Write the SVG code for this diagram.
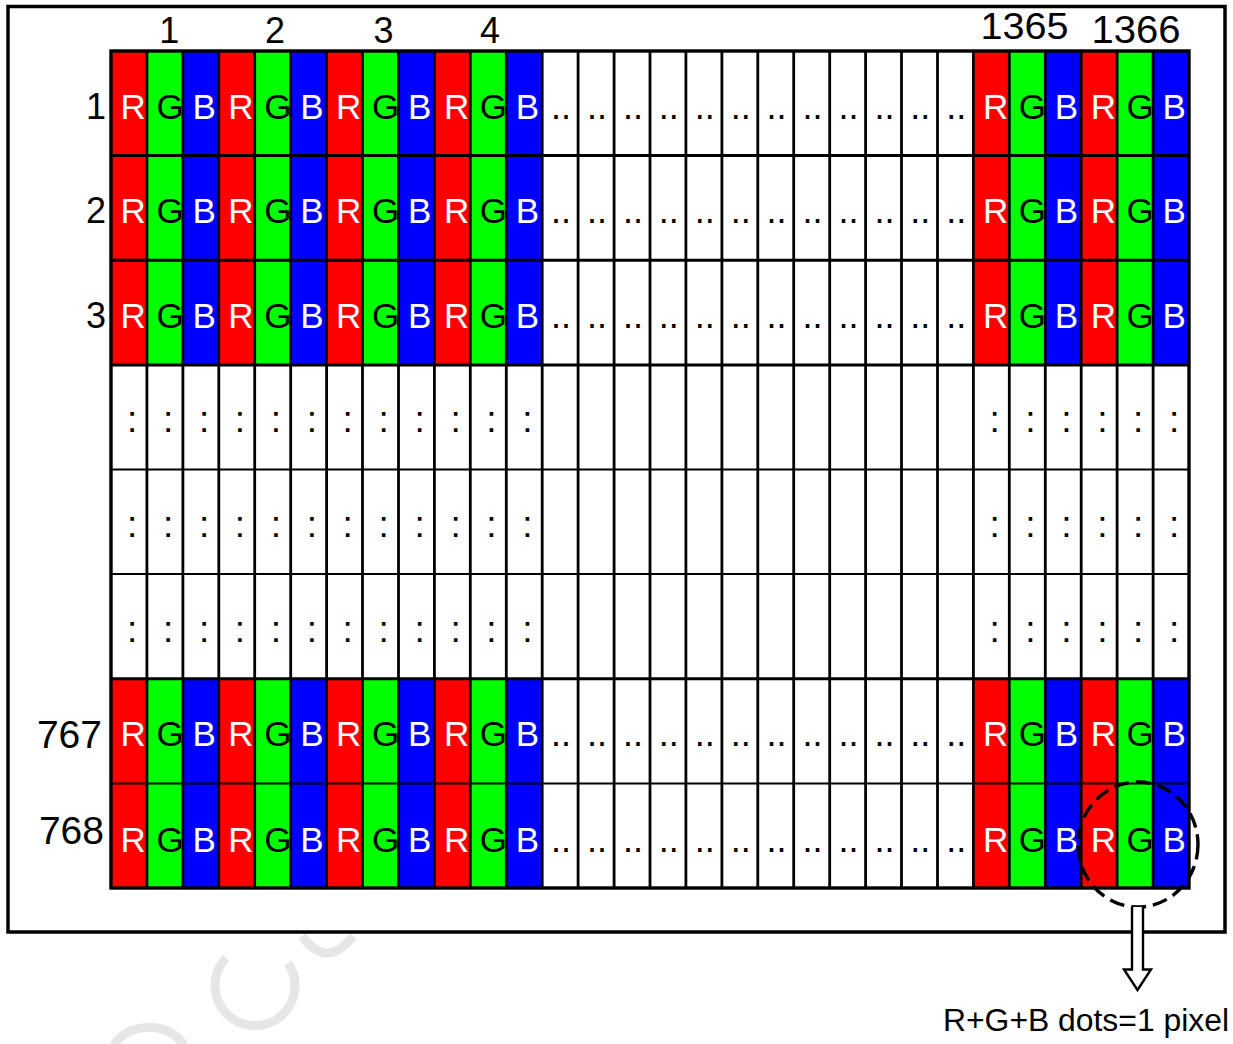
<svg xmlns="http://www.w3.org/2000/svg" width="1233" height="1044" viewBox="0 0 1233 1044">
<style>
  text{font-family:"Liberation Sans",Arial,sans-serif}
  .lt{font-size:35px}
  .w{fill:#fff}
  .k{fill:#000}
  .d{font-size:36px;fill:#000}
  .c{font-size:37px;fill:#000}
  .lab{font-size:36px;fill:#000}
  .vl{stroke:#000;stroke-width:2.8}
  .hk{stroke:#000;stroke-width:3}
  .hn{stroke:#000;stroke-width:2}
  .wm{fill:none;stroke:#e6e6e6;stroke-width:9}
</style>
<defs>
  <pattern id="rgb" patternUnits="userSpaceOnUse" x="111" y="0" width="107.8" height="1044">
    <rect x="0" y="0" width="35.93" height="1044" fill="#ff0000"/>
    <rect x="35.93" y="0" width="35.94" height="1044" fill="#00ff00"/>
    <rect x="71.87" y="0" width="35.93" height="1044" fill="#0000ff"/>
  </pattern>
  <g id="rowtext">
    <text class="lt w" x="120.5" y="118.5">R</text>
    <text class="lt k" x="156.4" y="118.5">G</text>
    <text class="lt w" x="192.4" y="118.5">B</text>
    <text class="lt w" x="228.3" y="118.5">R</text>
    <text class="lt k" x="264.2" y="118.5">G</text>
    <text class="lt w" x="300.2" y="118.5">B</text>
    <text class="lt w" x="336.1" y="118.5">R</text>
    <text class="lt k" x="372.0" y="118.5">G</text>
    <text class="lt w" x="408.0" y="118.5">B</text>
    <text class="lt w" x="443.9" y="118.5">R</text>
    <text class="lt k" x="479.8" y="118.5">G</text>
    <text class="lt w" x="515.8" y="118.5">B</text>
    <text class="d" x="551.0" y="118.5">..</text>
    <text class="d" x="586.9" y="118.5">..</text>
    <text class="d" x="622.9" y="118.5">..</text>
    <text class="d" x="658.8" y="118.5">..</text>
    <text class="d" x="694.7" y="118.5">..</text>
    <text class="d" x="730.7" y="118.5">..</text>
    <text class="d" x="766.6" y="118.5">..</text>
    <text class="d" x="802.5" y="118.5">..</text>
    <text class="d" x="838.5" y="118.5">..</text>
    <text class="d" x="874.4" y="118.5">..</text>
    <text class="d" x="910.3" y="118.5">..</text>
    <text class="d" x="946.3" y="118.5">..</text>
    <text class="lt w" x="982.9" y="118.5">R</text>
    <text class="lt k" x="1018.8" y="118.5">G</text>
    <text class="lt w" x="1054.8" y="118.5">B</text>
    <text class="lt w" x="1090.7" y="118.5">R</text>
    <text class="lt k" x="1126.6" y="118.5">G</text>
    <text class="lt w" x="1162.6" y="118.5">B</text>
  </g>
  <g id="colontext">
    <text class="c" x="127.0" y="432.4">:</text>
    <text class="c" x="162.9" y="432.4">:</text>
    <text class="c" x="198.9" y="432.4">:</text>
    <text class="c" x="234.8" y="432.4">:</text>
    <text class="c" x="270.7" y="432.4">:</text>
    <text class="c" x="306.7" y="432.4">:</text>
    <text class="c" x="342.6" y="432.4">:</text>
    <text class="c" x="378.5" y="432.4">:</text>
    <text class="c" x="414.5" y="432.4">:</text>
    <text class="c" x="450.4" y="432.4">:</text>
    <text class="c" x="486.3" y="432.4">:</text>
    <text class="c" x="522.3" y="432.4">:</text>
    <text class="c" x="989.4" y="432.4">:</text>
    <text class="c" x="1025.3" y="432.4">:</text>
    <text class="c" x="1061.3" y="432.4">:</text>
    <text class="c" x="1097.2" y="432.4">:</text>
    <text class="c" x="1133.1" y="432.4">:</text>
    <text class="c" x="1169.1" y="432.4">:</text>
  </g>
</defs>

<g id="watermark">
  <path class="wm" d="M288,963 A40,40 0 1 1 226,958"/>
  <path class="wm" d="M302,936 Q327,970 353,936"/>
  <path class="wm" d="M112,1050 A38,30 0 0 1 184,1046"/>
</g>

<g id="frame">
  <rect x="8" y="6.5" width="1217" height="925.5" fill="#fff" stroke="#000" stroke-width="3.5"/>
</g>

<g id="panel">
  <rect x="111" y="51" width="1078" height="837" fill="#fff"/>
  <rect x="111" y="51" width="431.2" height="313.9" fill="url(#rgb)"/>
  <rect x="973.4" y="51" width="215.6" height="313.9" fill="url(#rgb)"/>
  <rect x="111" y="678.8" width="431.2" height="209.2" fill="url(#rgb)"/>
  <rect x="973.4" y="678.8" width="215.6" height="209.2" fill="url(#rgb)"/>
</g>

<g id="cell-text">
  <g id="row-1"><use href="#rowtext"/></g>
  <g id="row-2" transform="translate(0,104.6)"><use href="#rowtext"/></g>
  <g id="row-3" transform="translate(0,209.3)"><use href="#rowtext"/></g>
  <g id="row-4"><use href="#colontext"/></g>
  <g id="row-5" transform="translate(0,104.6)"><use href="#colontext"/></g>
  <g id="row-6" transform="translate(0,209.3)"><use href="#colontext"/></g>
  <g id="row-767" transform="translate(0,627.8)"><use href="#rowtext"/></g>
  <g id="row-768" transform="translate(0,733)"><use href="#rowtext"/></g>
</g>

<g id="grid-lines">
  <g class="vl">
    <line x1="146.9" y1="51" x2="146.9" y2="888"/>
    <line x1="182.9" y1="51" x2="182.9" y2="888"/>
    <line x1="218.8" y1="51" x2="218.8" y2="888"/>
    <line x1="254.7" y1="51" x2="254.7" y2="888"/>
    <line x1="290.7" y1="51" x2="290.7" y2="888"/>
    <line x1="326.6" y1="51" x2="326.6" y2="888"/>
    <line x1="362.5" y1="51" x2="362.5" y2="888"/>
    <line x1="398.5" y1="51" x2="398.5" y2="888"/>
    <line x1="434.4" y1="51" x2="434.4" y2="888"/>
    <line x1="470.3" y1="51" x2="470.3" y2="888"/>
    <line x1="506.3" y1="51" x2="506.3" y2="888"/>
    <line x1="542.2" y1="51" x2="542.2" y2="888"/>
    <line x1="578.1" y1="51" x2="578.1" y2="888"/>
    <line x1="614.1" y1="51" x2="614.1" y2="888"/>
    <line x1="650.0" y1="51" x2="650.0" y2="888"/>
    <line x1="685.9" y1="51" x2="685.9" y2="888"/>
    <line x1="721.9" y1="51" x2="721.9" y2="888"/>
    <line x1="757.8" y1="51" x2="757.8" y2="888"/>
    <line x1="793.7" y1="51" x2="793.7" y2="888"/>
    <line x1="829.7" y1="51" x2="829.7" y2="888"/>
    <line x1="865.6" y1="51" x2="865.6" y2="888"/>
    <line x1="901.5" y1="51" x2="901.5" y2="888"/>
    <line x1="937.5" y1="51" x2="937.5" y2="888"/>
    <line x1="973.4" y1="51" x2="973.4" y2="888"/>
    <line x1="1009.3" y1="51" x2="1009.3" y2="888"/>
    <line x1="1045.3" y1="51" x2="1045.3" y2="888"/>
    <line x1="1081.2" y1="51" x2="1081.2" y2="888"/>
    <line x1="1117.1" y1="51" x2="1117.1" y2="888"/>
    <line x1="1153.1" y1="51" x2="1153.1" y2="888"/>
  </g>
  <line class="hk" x1="111" y1="155.6" x2="1189" y2="155.6"/>
  <line class="hk" x1="111" y1="260.3" x2="1189" y2="260.3"/>
  <line class="hk" x1="111" y1="364.9" x2="1189" y2="364.9"/>
  <line class="hn" x1="111" y1="469.5" x2="1189" y2="469.5"/>
  <line class="hn" x1="111" y1="574.1" x2="1189" y2="574.1"/>
  <line class="hk" x1="111" y1="678.8" x2="1189" y2="678.8"/>
  <line class="hn" x1="111" y1="783.4" x2="1189" y2="783.4"/>
  <rect x="111" y="51" width="1078" height="837" fill="none" stroke="#000" stroke-width="3.4"/>
</g>

<g id="column-labels">
  <text class="lab" x="169.3" y="43" text-anchor="middle">1</text>
  <text class="lab" x="275" y="43" text-anchor="middle">2</text>
  <text class="lab" x="383.5" y="43" text-anchor="middle">3</text>
  <text class="lab" x="490" y="43" text-anchor="middle">4</text>
  <text class="lab" x="980.5" y="39" textLength="88" lengthAdjust="spacingAndGlyphs">1365</text>
  <text class="lab" style="font-size:38px" x="1091.5" y="43" textLength="89" lengthAdjust="spacingAndGlyphs">1366</text>
</g>

<g id="row-labels">
  <text class="lab" x="106" y="119" text-anchor="end">1</text>
  <text class="lab" x="106" y="223" text-anchor="end">2</text>
  <text class="lab" x="106" y="328" text-anchor="end">3</text>
  <text class="lab" style="font-size:39px" x="102" y="748" text-anchor="end">767</text>
  <text class="lab" style="font-size:39px" x="104" y="844" text-anchor="end">768</text>
</g>

<g id="connectors">
  <ellipse cx="1138" cy="844.5" rx="60" ry="62.5" fill="none" stroke="#000" stroke-width="3.4" stroke-dasharray="15 7"/>
  <path d="M1132,907 V969.5 H1124 L1137.5,990 L1151,969.5 H1143 V907" fill="#fff" stroke="#000" stroke-width="2.4" stroke-linejoin="miter"/>
</g>

<g id="caption">
  <text x="943" y="1031" style="font-size:31px" textLength="286" lengthAdjust="spacingAndGlyphs">R+G+B dots=1 pixel</text>
</g>
</svg>
